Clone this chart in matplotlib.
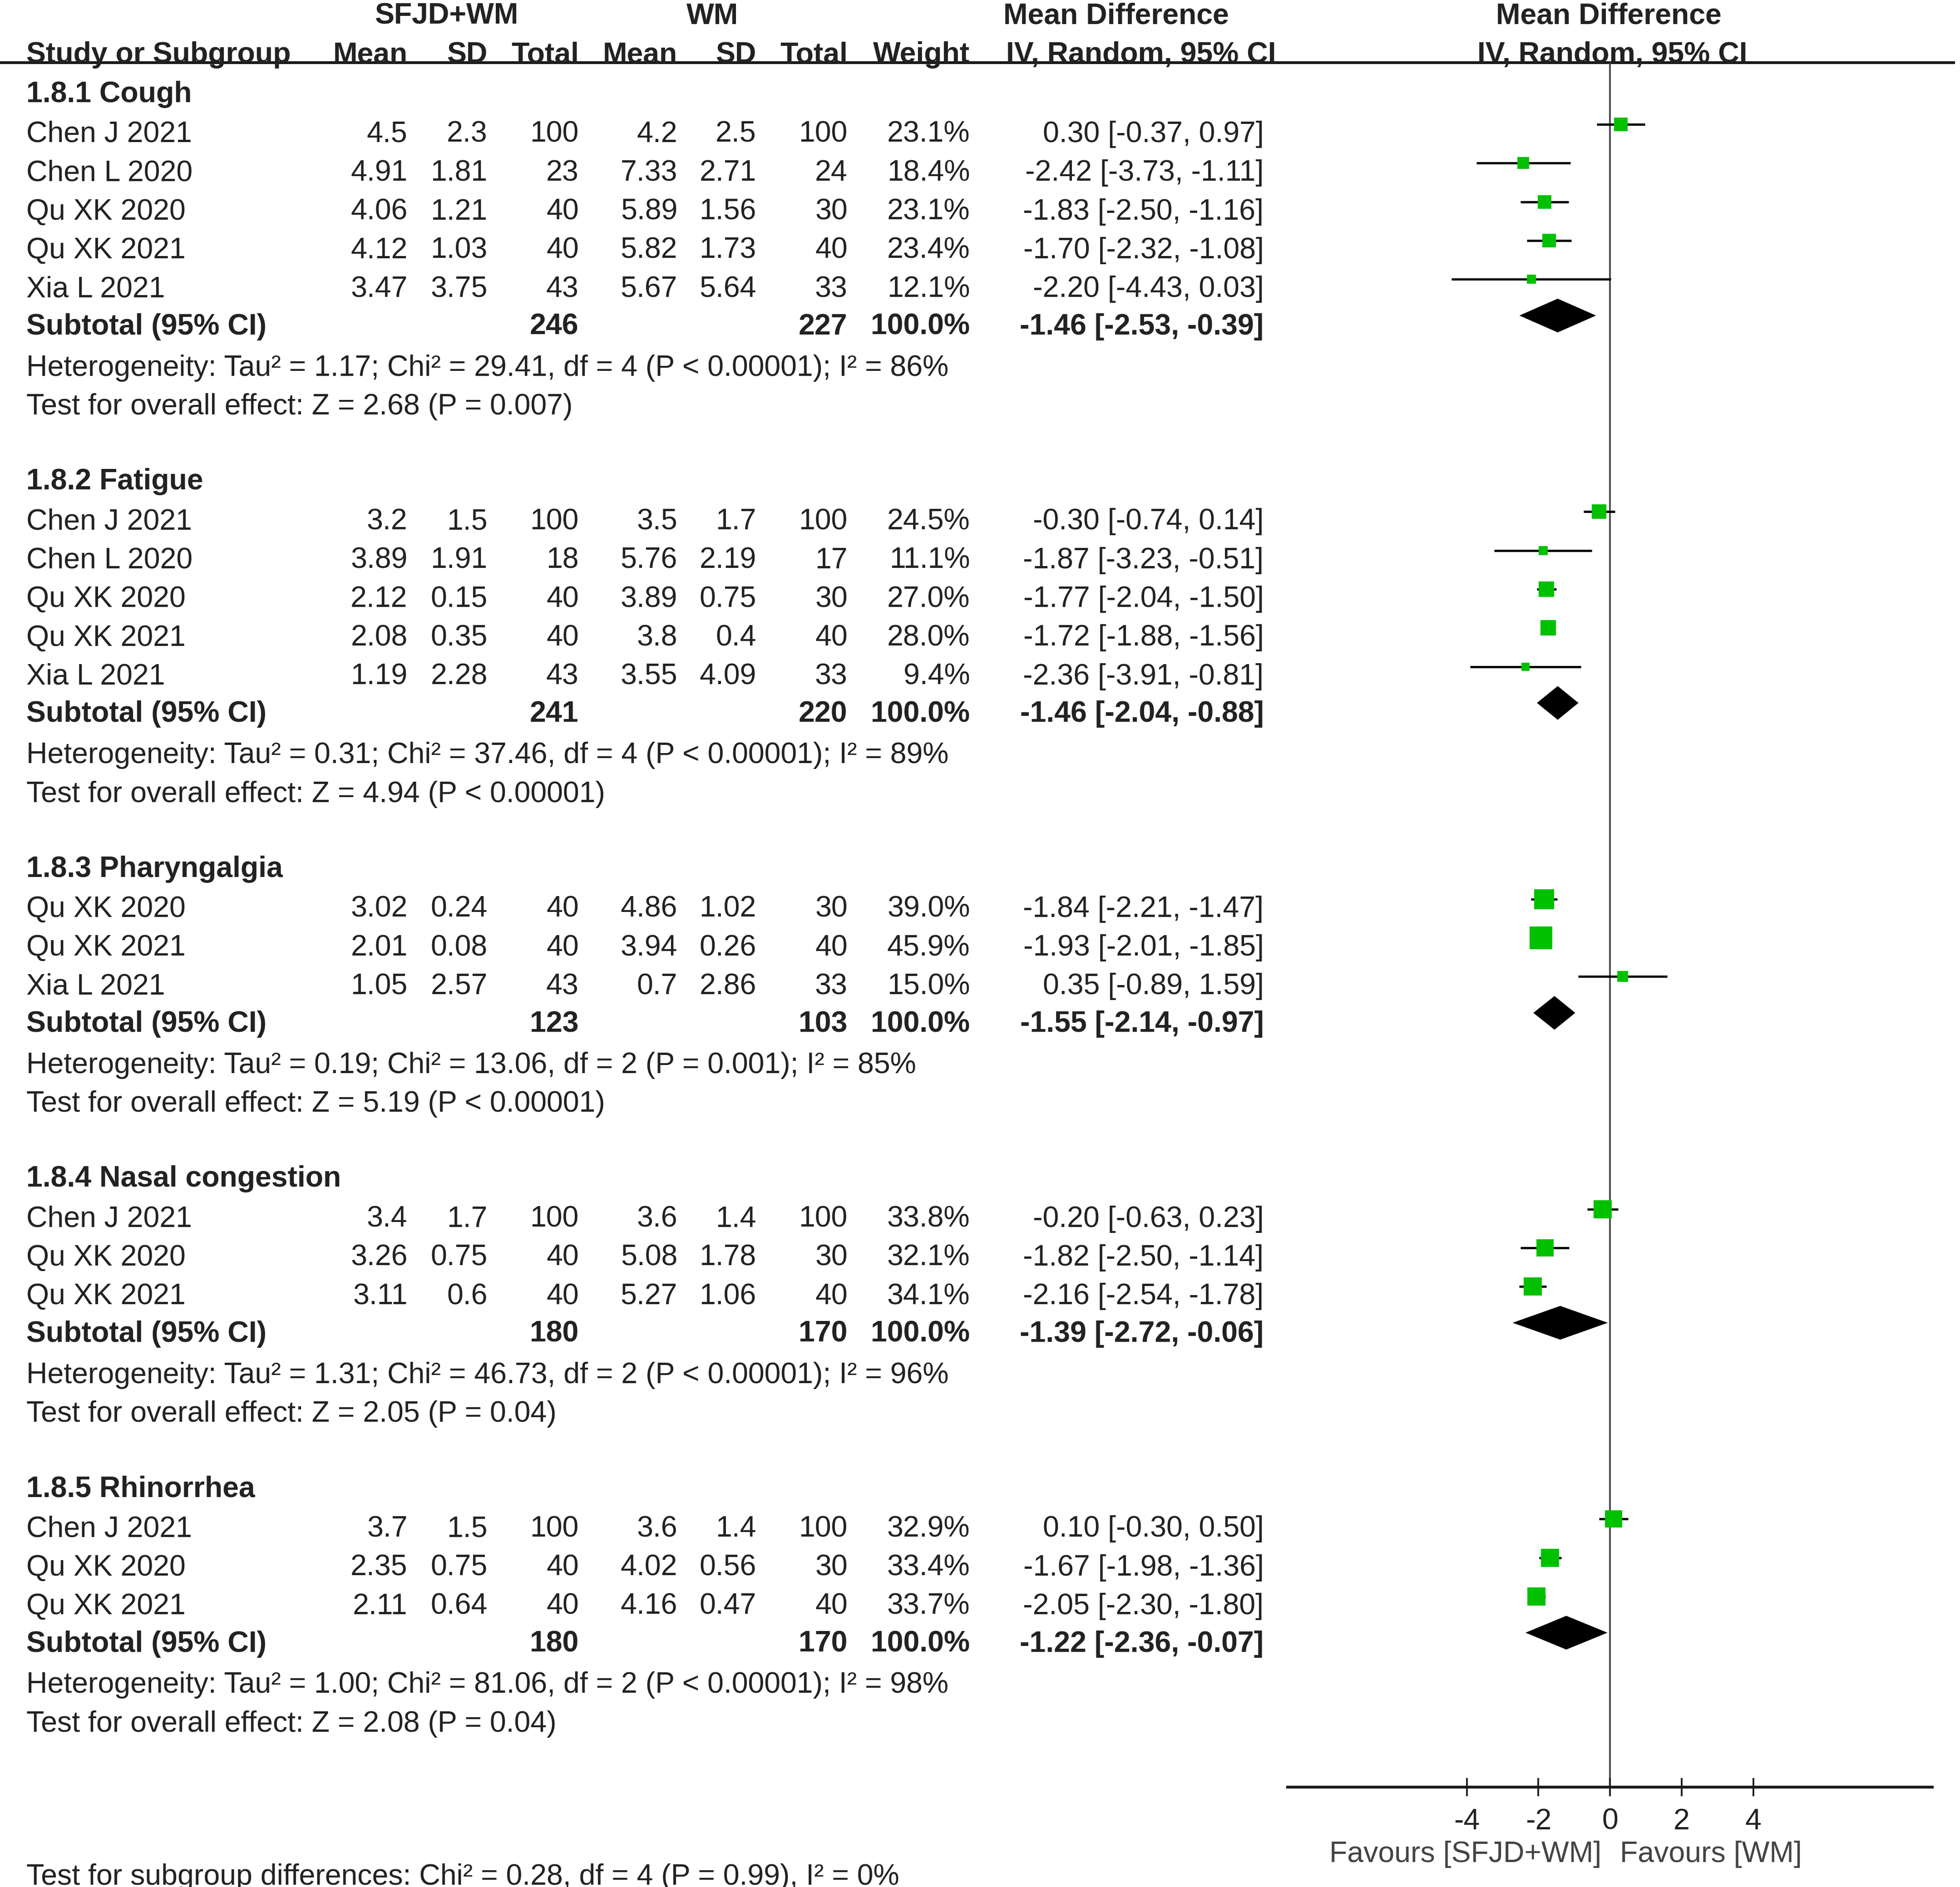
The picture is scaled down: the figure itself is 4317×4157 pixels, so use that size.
import matplotlib
matplotlib.use('Agg')
import matplotlib.pyplot as plt

plt.rcParams['font.family'] = ['Liberation Sans', 'DejaVu Sans']

# ---- data ----
groups = ['1.8.1 Cough', '1.8.2 Fatigue', '1.8.3 Pharyngalgia', '1.8.4 Nasal congestion', '1.8.5 Rhinorrhea']

study_group = [0, 0, 0, 0, 0, 1, 1, 1, 1, 1, 2, 2, 2, 3, 3, 3, 4, 4, 4]
study_names = ['Chen J 2021', 'Chen L 2020', 'Qu XK 2020', 'Qu XK 2021', 'Xia L 2021',
               'Chen J 2021', 'Chen L 2020', 'Qu XK 2020', 'Qu XK 2021', 'Xia L 2021',
               'Qu XK 2020', 'Qu XK 2021', 'Xia L 2021',
               'Chen J 2021', 'Qu XK 2020', 'Qu XK 2021',
               'Chen J 2021', 'Qu XK 2020', 'Qu XK 2021']
exp_mean = [4.5, 4.91, 4.06, 4.12, 3.47, 3.2, 3.89, 2.12, 2.08, 1.19, 3.02, 2.01, 1.05, 3.4, 3.26, 3.11, 3.7, 2.35, 2.11]
exp_sd = [2.3, 1.81, 1.21, 1.03, 3.75, 1.5, 1.91, 0.15, 0.35, 2.28, 0.24, 0.08, 2.57, 1.7, 0.75, 0.6, 1.5, 0.75, 0.64]
exp_n = [100, 23, 40, 40, 43, 100, 18, 40, 40, 43, 40, 40, 43, 100, 40, 40, 100, 40, 40]
ctl_mean = [4.2, 7.33, 5.89, 5.82, 5.67, 3.5, 5.76, 3.89, 3.8, 3.55, 4.86, 3.94, 0.7, 3.6, 5.08, 5.27, 3.6, 4.02, 4.16]
ctl_sd = [2.5, 2.71, 1.56, 1.73, 5.64, 1.7, 2.19, 0.75, 0.4, 4.09, 1.02, 0.26, 2.86, 1.4, 1.78, 1.06, 1.4, 0.56, 0.47]
ctl_n = [100, 24, 30, 40, 33, 100, 17, 30, 40, 33, 30, 40, 33, 100, 30, 40, 100, 30, 40]
weight = [23.1, 18.4, 23.1, 23.4, 12.1, 24.5, 11.1, 27.0, 28.0, 9.4, 39.0, 45.9, 15.0, 33.8, 32.1, 34.1, 32.9, 33.4, 33.7]
md = [0.30, -2.42, -1.83, -1.70, -2.20, -0.30, -1.87, -1.77, -1.72, -2.36, -1.84, -1.93, 0.35, -0.20, -1.82, -2.16, 0.10, -1.67, -2.05]
md_lo = [-0.37, -3.73, -2.50, -2.32, -4.43, -0.74, -3.23, -2.04, -1.88, -3.91, -2.21, -2.01, -0.89, -0.63, -2.50, -2.54, -0.30, -1.98, -2.30]
md_hi = [0.97, -1.11, -1.16, -1.08, 0.03, 0.14, -0.51, -1.50, -1.56, -0.81, -1.47, -1.85, 1.59, 0.23, -1.14, -1.78, 0.50, -1.36, -1.80]

sub_exp_n = [246, 241, 123, 180, 180]
sub_ctl_n = [227, 220, 103, 170, 170]
sub_md = [-1.46, -1.46, -1.55, -1.39, -1.22]
sub_lo = [-2.53, -2.04, -2.14, -2.72, -2.36]
sub_hi = [-0.39, -0.88, -0.97, -0.06, -0.07]

het_tau2 = ['1.17', '0.31', '0.19', '1.31', '1.00']
het_chi2 = ['29.41', '37.46', '13.06', '46.73', '81.06']
het_df = [4, 4, 2, 2, 2]
het_p = ['P < 0.00001', 'P < 0.00001', 'P = 0.001', 'P < 0.00001', 'P < 0.00001']
het_i2 = [86, 89, 85, 96, 98]
z_val = ['2.68', '4.94', '5.19', '2.05', '2.08']
z_p = ['P = 0.007', 'P < 0.00001', 'P < 0.00001', 'P = 0.04', 'P = 0.04']

xticks = [-4, -2, 0, 2, 4]
left_label = 'Favours [SFJD+WM]'
right_label = 'Favours [WM]'
overall_text = 'Test for subgroup differences: Chi\u00b2 = 0.28, df = 4 (P = 0.99), I\u00b2 = 0%'

# ---- layout (in a 1568 x 1510 coordinate frame) ----
W, H = 1568.0, 1510.0
FS = 15.45
TXT = '#222222'
GREEN = '#00c000'
row0, row_h = 74.5, 31.0
header_y = 50
axis_y = 1430
fx0, fx1 = 1030.1, 1545.9
col_right = [326, 390, 463, 542, 605, 678, 776, 1011]

fig = plt.figure(figsize=(4317 / 300, 4157 / 300), dpi=300)
ax = fig.add_axes([0, 0, 1, 1])
ax.set_xlim(0, W)
ax.set_ylim(H, 0)
ax.axis('off')

axf = fig.add_axes([fx0 / W, 0, (fx1 - fx0) / W, 1])
axf.set_xlim(-9, 9)
axf.set_ylim(H, 0)
axf.axis('off')


def put(x, y, s, ha='left', bold=False, color=TXT):
    ax.text(x, y, s, ha=ha, va='center', fontsize=FS, color=color,
            fontweight='bold' if bold else 'normal')


# headers
put(357, 13, 'SFJD+WM', ha='center', bold=True)
put(570, 13, 'WM', ha='center', bold=True)
put(893, 13, 'Mean Difference', ha='center', bold=True)
put(1287, 13, 'Mean Difference', ha='center', bold=True)
put(21, 44, 'Study or Subgroup', bold=True)
for x, s in zip(col_right[:7], ['Mean', 'SD', 'Total', 'Mean', 'SD', 'Total', 'Weight']):
    put(x, 44, s, ha='right', bold=True)
put(805, 44, 'IV, Random, 95% CI', bold=True)
put(1290, 44, 'IV, Random, 95% CI', ha='center', bold=True)
ax.hlines(header_y, 0, W - 4, color='#1a1a1a', lw=1.5)

# zero line
axf.vlines(0, header_y, axis_y, color='#444444', lw=0.9)

k = 0
for g, gname in enumerate(groups):
    put(21, row0 + row_h * k + 1, gname, bold=True)
    k += 1
    idx = [i for i, sg in enumerate(study_group) if sg == g]
    for i in idx:
        y = row0 + row_h * k
        put(21, y + 2, study_names[i])
        vals = [str(exp_mean[i]), str(exp_sd[i]), str(exp_n[i]), str(ctl_mean[i]),
                str(ctl_sd[i]), str(ctl_n[i]), '%.1f%%' % weight[i],
                '%.2f [%.2f, %.2f]' % (md[i], md_lo[i], md_hi[i])]
        for x, s in zip(col_right, vals):
            put(x, y + 2, s, ha='right')
        ym = y - 6
        axf.hlines(ym, md_lo[i], md_hi[i], color='black', lw=1.2, zorder=2)
        axf.plot(md[i], ym, marker='s', ms=2.54 + 0.206 * weight[i], color=GREEN,
                 mec='none', zorder=3)
        k += 1
    y = row0 + row_h * k
    put(21, y + 1, 'Subtotal (95% CI)', bold=True)
    put(col_right[2], y + 1, str(sub_exp_n[g]), ha='right', bold=True)
    put(col_right[5], y + 1, str(sub_ctl_n[g]), ha='right', bold=True)
    put(col_right[6], y + 1, '100.0%', ha='right', bold=True)
    put(col_right[7], y + 1, '%.2f [%.2f, %.2f]' % (sub_md[g], sub_lo[g], sub_hi[g]), ha='right', bold=True)
    yd = y - 8
    hh = 13.5
    axf.fill([sub_lo[g], sub_md[g], sub_hi[g], sub_md[g]], [yd, yd - hh, yd, yd + hh],
             color='black', lw=0, zorder=3)
    k += 1
    put(21, row0 + row_h * k + 3, 'Heterogeneity: Tau\u00b2 = %s; Chi\u00b2 = %s, df = %d (%s); I\u00b2 = %d%%'
        % (het_tau2[g], het_chi2[g], het_df[g], het_p[g], het_i2[g]))
    k += 1
    put(21, row0 + row_h * k + 3, 'Test for overall effect: Z = %s (%s)' % (z_val[g], z_p[g]))
    k += 2

put(21, 1502, overall_text)

# bottom axis
axx = fig.add_axes([fx0 / W, (H - axis_y) / H, (fx1 - fx0) / W, 0.0001])
axx.set_xlim(-9, 9)
axx.patch.set_visible(False)
for s in ['top', 'left', 'right']:
    axx.spines[s].set_visible(False)
axx.spines['bottom'].set_linewidth(1.5)
axx.spines['bottom'].set_color('#1a1a1a')
axx.set_yticks([])
axx.set_xticks(xticks)
axx.set_xticklabels([str(t) for t in xticks])
axx.tick_params(axis='x', direction='inout', length=9.5, width=0.9, labelsize=FS,
                labelcolor=TXT, color='#1a1a1a', pad=6.3)

axf.text(-0.24, 1484, left_label, ha='right', va='center', fontsize=FS, color='#444444')
axf.text(0.28, 1484, right_label, ha='left', va='center', fontsize=FS, color='#444444')

fig.savefig('out.png', dpi=300)
